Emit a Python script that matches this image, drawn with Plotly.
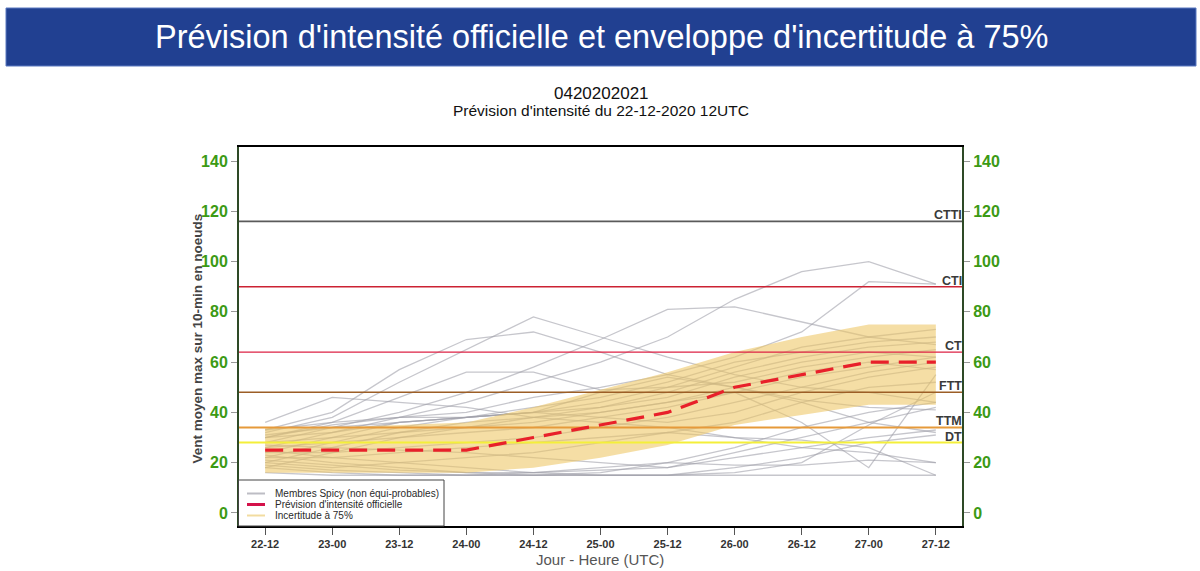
import plotly.graph_objects as go

# ---------------- data ----------------
time_labels = ["22-12", "23-00", "23-12", "24-00", "24-12", "25-00",
               "25-12", "26-00", "26-12", "27-00", "27-12"]

official = [25, 25, 25, 25, 30, 35, 40, 50, 55, 60, 60]
env_low = [16, 16, 16, 16, 18, 22, 27, 35, 39, 43, 43]
env_high = [34, 34, 35, 36, 42, 49, 56, 64, 70, 75, 75]

members = [
    [36, 46, 44, 42, 38, 36, 34, 30, 26, 24, 20],
    [33, 40, 57, 69, 72, 64, 55, 50, 45, 42, 41],
    [32, 38, 52, 65, 78, 70, 62, 55, 50, 48, 44],
    [30, 36, 46, 56, 56, 49, 50, 52, 58, 62, 65],
    [28, 34, 40, 48, 58, 69, 81, 82, 76, 70, 73],
    [30, 35, 38, 44, 52, 60, 70, 85, 96, 100, 91],
    [26, 32, 38, 40, 46, 50, 55, 62, 72, 92, 91],
    [24, 30, 36, 38, 40, 44, 50, 58, 66, 70, 67],
    [22, 28, 34, 38, 40, 42, 46, 54, 60, 64, 62],
    [20, 26, 32, 36, 38, 40, 44, 50, 56, 60, 57],
    [18, 24, 30, 34, 36, 40, 44, 48, 36, 18, 55],
    [16, 15, 15, 15, 15, 15, 15, 15, 15, 15, 15],
    [18, 16, 15, 15, 16, 18, 20, 19, 19, 21, 20],
    [20, 18, 20, 22, 24, 28, 32, 30, 29, 26, 15],
    [22, 22, 24, 26, 28, 30, 32, 36, 44, 50, 52],
    [24, 24, 26, 28, 30, 34, 38, 44, 50, 56, 60],
    [26, 28, 30, 32, 34, 38, 42, 48, 54, 58, 62],
    [28, 30, 32, 34, 38, 42, 48, 56, 62, 66, 68],
    [30, 32, 36, 38, 42, 46, 52, 60, 64, 68, 70],
    [27, 26, 25, 24, 22, 20, 18, 22, 26, 30, 33],
    [25, 22, 20, 18, 16, 15, 15, 18, 22, 28, 31],
    [23, 20, 18, 16, 15, 15, 15, 16, 20, 35, 48],
    [21, 19, 17, 16, 16, 17, 18, 24, 30, 36, 42],
    [19, 17, 16, 15, 15, 16, 20, 26, 34, 40, 44],
    [33, 36, 38, 38, 40, 48, 54, 50, 44, 36, 32],
    [31, 34, 36, 38, 40, 38, 36, 40, 48, 54, 58],
]

threshold_names = ["CTTI", "CTI", "CT", "FTT", "TTM", "DT"]
threshold_values = [116, 90, 64, 48, 34, 28]
threshold_colors = ["#5a5a5a", "#cc2233", "#dd2244", "#9c5e26", "#e69a3a", "#f4ef3a"]
threshold_widths = [1.8, 1.3, 1.3, 1.6, 2.2, 2.0]

y_ticks = [0, 20, 40, 60, 80, 100, 120, 140]

legend_labels = ["Membres Spicy (non équi-probables)",
                 "Prévision d'intensité officielle",
                 "Incertitude à 75%"]
legend_colors = ["#bdbdc4", "#d4124a", "#f2dca0"]
legend_widths = [2, 3, 2]

# ---------------- figure ----------------
xs = list(range(len(time_labels)))
X_RANGE = [-0.39, 10.39]
Y_RANGE = [-5.2, 145.6]
fig = go.Figure()

for m in members:
    fig.add_trace(go.Scatter(x=xs, y=m, mode="lines",
                             line=dict(color="rgba(160,160,170,0.6)", width=1.3),
                             showlegend=False, hoverinfo="skip"))

# envelope
fig.add_trace(go.Scatter(x=xs + xs[::-1], y=env_high + env_low[::-1],
                         fill="toself", fillcolor="rgba(238,198,100,0.58)",
                         line=dict(width=0), mode="lines",
                         showlegend=False, hoverinfo="skip"))

for name, val, col, w in zip(threshold_names, threshold_values,
                             threshold_colors, threshold_widths):
    fig.add_trace(go.Scatter(x=X_RANGE, y=[val, val], mode="lines",
                             line=dict(color=col, width=w),
                             showlegend=False, hoverinfo="skip"))
    fig.add_annotation(x=1.0, xref="x domain", y=val, yref="y",
                       text="<b>" + name + "</b>", showarrow=False,
                       xanchor="right", yanchor="middle", yshift=6, xshift=1,
                       borderpad=0,
                       font=dict(size=12.5, color="#3a3a3a"))

fig.add_trace(go.Scatter(x=xs, y=official, mode="lines",
                         line=dict(color="#e8202a", width=3.2, dash="18px,10px"),
                         showlegend=False, hoverinfo="skip"))

# dummy trace for right axis
fig.add_trace(go.Scatter(x=[None], y=[None], yaxis="y2", showlegend=False))

font_family = "Liberation Sans, Arial, sans-serif"
green = "#3c9a14"

fig.update_layout(
    width=1200, height=571,
    paper_bgcolor="white", plot_bgcolor="white",
    margin=dict(l=239, r=238, t=147, b=45, autoexpand=False),
    font=dict(family=font_family),
    showlegend=False,
    xaxis=dict(range=X_RANGE, tickvals=xs, ticktext=["<b>" + t + "</b>" for t in time_labels],
               tickfont=dict(size=11, color="#333333"),
               ticks="outside", ticklen=7, tickcolor="#555555",
               showline=True, linecolor="black", linewidth=1.5, mirror=True,
               showgrid=False, zeroline=False, automargin=False),
    yaxis=dict(range=Y_RANGE, tickvals=y_ticks,
               ticktext=["<b>%d</b>" % v for v in y_ticks],
               tickfont=dict(size=16, color=green),
               ticks="outside", ticklen=6, tickcolor="#999999",
               showline=True, linecolor="#2e4a26", linewidth=2,
               showgrid=False, zeroline=False, automargin=False),
    yaxis2=dict(range=Y_RANGE, overlaying="y", side="right",
                tickvals=y_ticks, ticktext=["<b>%d</b>" % v for v in y_ticks],
                tickfont=dict(size=16, color=green),
                ticks="outside", ticklen=6, tickcolor="#999999",
                showline=True, linecolor="#2e4a26", linewidth=2,
                showgrid=False, zeroline=False, automargin=False),
)

PW, PH, PL, PB = 723.0, 379.0, 239.0, 526.0


def px(xp):
    return (xp - PL) / PW


def py(yp):
    return (PB - yp) / PH


# axis titles
fig.add_annotation(xref="paper", yref="paper", x=px(600), y=py(559),
                   text="Jour - Heure (UTC)", showarrow=False,
                   xanchor="center", yanchor="middle",
                   font=dict(size=15, color="#555555"))
fig.add_annotation(xref="paper", yref="paper", x=px(197), y=py(338.5),
                   text="<b>Vent moyen max sur 10-min en noeuds</b>", showarrow=False,
                   textangle=-90, xanchor="center", yanchor="middle",
                   font=dict(size=13.5, color="#444444"))

# custom legend
fig.add_shape(type="rect", xref="paper", yref="paper",
              x0=px(238.5), x1=px(444), y0=py(526), y1=py(480),
              fillcolor="white", line=dict(color="#444444", width=1), layer="above")
for i, (lab, col, w) in enumerate(zip(legend_labels, legend_colors, legend_widths)):
    yy = 493.5 + i * 11
    fig.add_shape(type="line", xref="paper", yref="paper",
                  x0=px(247), x1=px(265), y0=py(yy), y1=py(yy),
                  line=dict(color=col, width=w), layer="above")
    fig.add_annotation(xref="paper", yref="paper", x=px(273), y=py(yy),
                       text=lab, showarrow=False, xanchor="left", yanchor="middle",
                       font=dict(size=10, color="#2a2a2a"))

# banner
fig.add_shape(type="rect", xref="paper", yref="paper",
              x0=px(6), x1=px(1196), y0=py(66), y1=py(8),
              fillcolor="#214091", line=dict(color="#5a78c0", width=1), layer="above")
fig.add_annotation(xref="paper", yref="paper", x=px(601), y=py(37),
                   text="Prévision d'intensité officielle et enveloppe d'incertitude à 75%",
                   showarrow=False, xanchor="center", yanchor="middle",
                   font=dict(size=32.5, color="white"))
fig.add_annotation(xref="paper", yref="paper", x=px(601), y=py(93),
                   text="0420202021", showarrow=False, xanchor="center", yanchor="middle",
                   font=dict(size=17, color="#111111"))
fig.add_annotation(xref="paper", yref="paper", x=px(601), y=py(110),
                   text="Prévision d'intensité du 22-12-2020 12UTC", showarrow=False,
                   xanchor="center", yanchor="middle",
                   font=dict(size=15.5, color="#111111"))

fig.write_html("out.html", config={"displayModeBar": False},
               post_script="document.body.style.margin='0';")
